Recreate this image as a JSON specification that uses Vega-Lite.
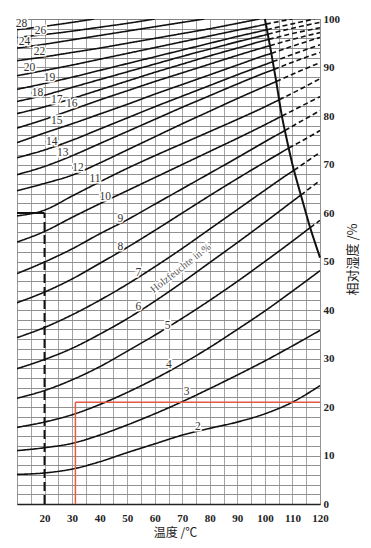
{
  "$schema": "https://vega.github.io/schema/vega-lite/v6.json",
  "width": 303,
  "height": 485,
  "autosize": "none",
  "padding": {"left": 17, "top": 19, "right": 51, "bottom": 44},
  "background": "white",
  "config": {"view": {"stroke": "#666", "strokeWidth": 1}},
  "datasets": {
    "curves": [
      {"c":"2","s":"a","t":10,"h":6.1},{"c":"2","s":"a","t":20,"h":6.4},{"c":"2","s":"a","t":30,"h":7.2},{"c":"2","s":"a","t":40,"h":8.7},{"c":"2","s":"a","t":50,"h":10.6},{"c":"2","s":"a","t":60,"h":12.4},{"c":"2","s":"a","t":70,"h":14.2},{"c":"2","s":"a","t":80,"h":15.6},{"c":"2","s":"a","t":90,"h":16.9},{"c":"2","s":"a","t":100,"h":18.6},{"c":"2","s":"a","t":110,"h":21.0},{"c":"2","s":"a","t":120,"h":24.4},
      {"c":"3","s":"a","t":10,"h":11.0},{"c":"3","s":"a","t":20,"h":11.6},{"c":"3","s":"a","t":30,"h":12.5},{"c":"3","s":"a","t":40,"h":14.2},{"c":"3","s":"a","t":50,"h":16.3},{"c":"3","s":"a","t":60,"h":18.6},{"c":"3","s":"a","t":70,"h":21.1},{"c":"3","s":"a","t":80,"h":23.8},{"c":"3","s":"a","t":90,"h":26.6},{"c":"3","s":"a","t":100,"h":29.5},{"c":"3","s":"a","t":110,"h":32.6},{"c":"3","s":"a","t":120,"h":35.8},
      {"c":"4","s":"a","t":10,"h":15.8},{"c":"4","s":"a","t":20,"h":16.9},{"c":"4","s":"a","t":30,"h":18.4},{"c":"4","s":"a","t":40,"h":20.5},{"c":"4","s":"a","t":50,"h":23.0},{"c":"4","s":"a","t":60,"h":25.8},{"c":"4","s":"a","t":70,"h":28.9},{"c":"4","s":"a","t":80,"h":32.3},{"c":"4","s":"a","t":90,"h":36.0},{"c":"4","s":"a","t":100,"h":39.8},{"c":"4","s":"a","t":110,"h":43.9},{"c":"4","s":"a","t":120,"h":48.1},
      {"c":"5","s":"a","t":10,"h":21.8},{"c":"5","s":"a","t":20,"h":23.4},{"c":"5","s":"a","t":30,"h":25.6},{"c":"5","s":"a","t":40,"h":28.3},{"c":"5","s":"a","t":50,"h":31.5},{"c":"5","s":"a","t":60,"h":34.8},{"c":"5","s":"a","t":70,"h":38.3},{"c":"5","s":"a","t":80,"h":42.0},{"c":"5","s":"a","t":90,"h":45.9},{"c":"5","s":"a","t":100,"h":50.0},{"c":"5","s":"a","t":110,"h":54.2},{"c":"5","s":"a","t":116.45,"h":57.0},
      {"c":"5","s":"b","t":116.45,"h":57.0},{"c":"5","s":"b","t":120,"h":58.5},
      {"c":"6","s":"a","t":10,"h":27.9},{"c":"6","s":"a","t":20,"h":29.8},{"c":"6","s":"a","t":30,"h":32.1},{"c":"6","s":"a","t":40,"h":35.0},{"c":"6","s":"a","t":50,"h":38.2},{"c":"6","s":"a","t":60,"h":41.8},{"c":"6","s":"a","t":70,"h":45.7},{"c":"6","s":"a","t":80,"h":49.8},{"c":"6","s":"a","t":90,"h":53.9},{"c":"6","s":"a","t":100,"h":58.1},{"c":"6","s":"a","t":110,"h":62.4},{"c":"6","s":"a","t":113.05,"h":63.7},
      {"c":"6","s":"b","t":113.05,"h":63.7},{"c":"6","s":"b","t":120,"h":66.7},
      {"c":"7","s":"a","t":10,"h":34.3},{"c":"7","s":"a","t":20,"h":36.4},{"c":"7","s":"a","t":30,"h":39.0},{"c":"7","s":"a","t":40,"h":42.0},{"c":"7","s":"a","t":50,"h":45.3},{"c":"7","s":"a","t":60,"h":48.9},{"c":"7","s":"a","t":70,"h":52.7},{"c":"7","s":"a","t":80,"h":56.7},{"c":"7","s":"a","t":90,"h":60.7},{"c":"7","s":"a","t":100,"h":64.7},{"c":"7","s":"a","t":110,"h":68.6},{"c":"7","s":"a","t":110.56,"h":68.8},
      {"c":"7","s":"b","t":110.56,"h":68.8},{"c":"7","s":"b","t":120,"h":72.5},
      {"c":"8","s":"a","t":10,"h":41.5},{"c":"8","s":"a","t":20,"h":43.7},{"c":"8","s":"a","t":30,"h":46.4},{"c":"8","s":"a","t":40,"h":49.6},{"c":"8","s":"a","t":50,"h":52.9},{"c":"8","s":"a","t":60,"h":56.4},{"c":"8","s":"a","t":70,"h":60.0},{"c":"8","s":"a","t":80,"h":63.6},{"c":"8","s":"a","t":90,"h":67.1},{"c":"8","s":"a","t":100,"h":70.5},{"c":"8","s":"a","t":108.66,"h":73.4},
      {"c":"8","s":"b","t":108.66,"h":73.4},{"c":"8","s":"b","t":110,"h":73.8},{"c":"8","s":"b","t":120,"h":77.0},
      {"c":"9","s":"a","t":10,"h":47.5},{"c":"9","s":"a","t":20,"h":49.9},{"c":"9","s":"a","t":30,"h":52.6},{"c":"9","s":"a","t":40,"h":55.7},{"c":"9","s":"a","t":50,"h":58.6},{"c":"9","s":"a","t":60,"h":61.8},{"c":"9","s":"a","t":70,"h":65.0},{"c":"9","s":"a","t":80,"h":68.2},{"c":"9","s":"a","t":90,"h":71.4},{"c":"9","s":"a","t":100,"h":74.7},{"c":"9","s":"a","t":107.26,"h":77.0},
      {"c":"9","s":"b","t":107.26,"h":77.0},{"c":"9","s":"b","t":110,"h":77.9},{"c":"9","s":"b","t":120,"h":81.1},
      {"c":"10","s":"a","t":10,"h":54.0},{"c":"10","s":"a","t":20,"h":56.2},{"c":"10","s":"a","t":30,"h":59.1},{"c":"10","s":"a","t":40,"h":61.9},{"c":"10","s":"a","t":50,"h":64.6},{"c":"10","s":"a","t":60,"h":67.3},{"c":"10","s":"a","t":70,"h":70.0},{"c":"10","s":"a","t":80,"h":72.7},{"c":"10","s":"a","t":90,"h":75.4},{"c":"10","s":"a","t":100,"h":78.2},{"c":"10","s":"a","t":106.18,"h":80.0},
      {"c":"10","s":"b","t":106.18,"h":80.0},{"c":"10","s":"b","t":110,"h":81.1},{"c":"10","s":"b","t":120,"h":84.0},
      {"c":"11","s":"a","t":10,"h":59.4},{"c":"11","s":"a","t":20,"h":60.6},{"c":"11","s":"a","t":30,"h":63.5},{"c":"11","s":"a","t":40,"h":66.4},{"c":"11","s":"a","t":50,"h":69.2},{"c":"11","s":"a","t":60,"h":71.8},{"c":"11","s":"a","t":70,"h":74.3},{"c":"11","s":"a","t":80,"h":76.8},{"c":"11","s":"a","t":90,"h":79.3},{"c":"11","s":"a","t":100,"h":81.9},{"c":"11","s":"a","t":105.19,"h":83.35},
      {"c":"11","s":"b","t":105.19,"h":83.35},{"c":"11","s":"b","t":110,"h":84.7},{"c":"11","s":"b","t":120,"h":87.7},
      {"c":"12","s":"a","t":10,"h":64.6},{"c":"12","s":"a","t":20,"h":66.1},{"c":"12","s":"a","t":30,"h":67.8},{"c":"12","s":"a","t":40,"h":70.3},{"c":"12","s":"a","t":50,"h":73.0},{"c":"12","s":"a","t":60,"h":75.7},{"c":"12","s":"a","t":70,"h":78.4},{"c":"12","s":"a","t":80,"h":81.0},{"c":"12","s":"a","t":90,"h":83.6},{"c":"12","s":"a","t":100,"h":86.1},{"c":"12","s":"a","t":104.1,"h":87.1},
      {"c":"12","s":"b","t":104.1,"h":87.1},{"c":"12","s":"b","t":110,"h":88.6},{"c":"12","s":"b","t":120,"h":91.0},
      {"c":"13","s":"a","t":10,"h":67.9},{"c":"13","s":"a","t":20,"h":69.6},{"c":"13","s":"a","t":30,"h":71.8},{"c":"13","s":"a","t":40,"h":74.3},{"c":"13","s":"a","t":50,"h":76.8},{"c":"13","s":"a","t":60,"h":79.3},{"c":"13","s":"a","t":70,"h":81.8},{"c":"13","s":"a","t":80,"h":84.2},{"c":"13","s":"a","t":90,"h":86.6},{"c":"13","s":"a","t":100,"h":88.9},{"c":"13","s":"a","t":103.34,"h":89.6},
      {"c":"13","s":"b","t":103.34,"h":89.6},{"c":"13","s":"b","t":110,"h":91.1},{"c":"13","s":"b","t":120,"h":93.1},
      {"c":"14","s":"a","t":10,"h":71.4},{"c":"14","s":"a","t":20,"h":73.0},{"c":"14","s":"a","t":30,"h":75.0},{"c":"14","s":"a","t":40,"h":77.3},{"c":"14","s":"a","t":50,"h":79.6},{"c":"14","s":"a","t":60,"h":81.9},{"c":"14","s":"a","t":70,"h":84.1},{"c":"14","s":"a","t":80,"h":86.3},{"c":"14","s":"a","t":90,"h":88.5},{"c":"14","s":"a","t":100,"h":90.6},{"c":"14","s":"a","t":102.86,"h":91.2},
      {"c":"14","s":"b","t":102.86,"h":91.2},{"c":"14","s":"b","t":110,"h":92.7},{"c":"14","s":"b","t":120,"h":94.7},
      {"c":"15","s":"a","t":10,"h":74.5},{"c":"15","s":"a","t":20,"h":76.5},{"c":"15","s":"a","t":30,"h":78.4},{"c":"15","s":"a","t":40,"h":80.4},{"c":"15","s":"a","t":50,"h":82.4},{"c":"15","s":"a","t":60,"h":84.5},{"c":"15","s":"a","t":70,"h":86.5},{"c":"15","s":"a","t":80,"h":88.5},{"c":"15","s":"a","t":90,"h":90.5},{"c":"15","s":"a","t":100,"h":92.5},{"c":"15","s":"a","t":102.33,"h":92.9},
      {"c":"15","s":"b","t":102.33,"h":92.9},{"c":"15","s":"b","t":110,"h":94.4},{"c":"15","s":"b","t":120,"h":96.2},
      {"c":"16","s":"a","t":10,"h":77.5},{"c":"16","s":"a","t":20,"h":79.3},{"c":"16","s":"a","t":30,"h":81.3},{"c":"16","s":"a","t":40,"h":83.3},{"c":"16","s":"a","t":50,"h":85.2},{"c":"16","s":"a","t":60,"h":87.1},{"c":"16","s":"a","t":70,"h":88.9},{"c":"16","s":"a","t":80,"h":90.7},{"c":"16","s":"a","t":90,"h":92.5},{"c":"16","s":"a","t":100,"h":94.2},{"c":"16","s":"a","t":101.84,"h":94.5},
      {"c":"16","s":"b","t":101.84,"h":94.5},{"c":"16","s":"b","t":110,"h":95.8},{"c":"16","s":"b","t":120,"h":97.2},
      {"c":"17","s":"a","t":10,"h":80.5},{"c":"17","s":"a","t":20,"h":81.9},{"c":"17","s":"a","t":30,"h":83.6},{"c":"17","s":"a","t":40,"h":85.4},{"c":"17","s":"a","t":50,"h":87.2},{"c":"17","s":"a","t":60,"h":89.0},{"c":"17","s":"a","t":70,"h":90.7},{"c":"17","s":"a","t":80,"h":92.4},{"c":"17","s":"a","t":90,"h":94.0},{"c":"17","s":"a","t":100,"h":95.6},{"c":"17","s":"a","t":101.4,"h":95.8},
      {"c":"17","s":"b","t":101.4,"h":95.8},{"c":"17","s":"b","t":110,"h":97.0},{"c":"17","s":"b","t":120,"h":98.2},
      {"c":"18","s":"a","t":10,"h":83.0},{"c":"18","s":"a","t":20,"h":84.3},{"c":"18","s":"a","t":30,"h":85.9},{"c":"18","s":"a","t":40,"h":87.5},{"c":"18","s":"a","t":50,"h":89.1},{"c":"18","s":"a","t":60,"h":90.7},{"c":"18","s":"a","t":70,"h":92.3},{"c":"18","s":"a","t":80,"h":93.8},{"c":"18","s":"a","t":90,"h":95.3},{"c":"18","s":"a","t":100,"h":96.7},{"c":"18","s":"a","t":101.05,"h":96.85},
      {"c":"18","s":"b","t":101.05,"h":96.85},{"c":"18","s":"b","t":110,"h":98.1},{"c":"18","s":"b","t":120,"h":99.3},
      {"c":"19","s":"a","t":10,"h":85.5},{"c":"19","s":"a","t":20,"h":86.7},{"c":"19","s":"a","t":30,"h":88.0},{"c":"19","s":"a","t":40,"h":89.4},{"c":"19","s":"a","t":50,"h":90.8},{"c":"19","s":"a","t":60,"h":92.2},{"c":"19","s":"a","t":70,"h":93.6},{"c":"19","s":"a","t":80,"h":95.0},{"c":"19","s":"a","t":90,"h":96.4},{"c":"19","s":"a","t":100,"h":97.7},{"c":"19","s":"a","t":100.73,"h":97.8},
      {"c":"19","s":"b","t":100.73,"h":97.8},{"c":"19","s":"b","t":110,"h":99.0},{"c":"19","s":"b","t":118,"h":100},
      {"c":"20","s":"a","t":10,"h":88.3},{"c":"20","s":"a","t":20,"h":89.4},{"c":"20","s":"a","t":30,"h":90.5},{"c":"20","s":"a","t":40,"h":91.7},{"c":"20","s":"a","t":50,"h":92.9},{"c":"20","s":"a","t":60,"h":94.1},{"c":"20","s":"a","t":70,"h":95.3},{"c":"20","s":"a","t":80,"h":96.5},{"c":"20","s":"a","t":90,"h":97.7},{"c":"20","s":"a","t":100,"h":98.9},{"c":"20","s":"a","t":100.35,"h":98.95},
      {"c":"20","s":"b","t":100.35,"h":98.95},{"c":"20","s":"b","t":110,"h":100},
      {"c":"22","s":"a","t":10,"h":91.4},{"c":"22","s":"a","t":20,"h":92.2},{"c":"22","s":"a","t":30,"h":93.1},{"c":"22","s":"a","t":40,"h":94.0},{"c":"22","s":"a","t":50,"h":95.0},{"c":"22","s":"a","t":60,"h":96.0},{"c":"22","s":"a","t":70,"h":97.0},{"c":"22","s":"a","t":80,"h":98.0},{"c":"22","s":"a","t":90,"h":99.1},{"c":"22","s":"a","t":98,"h":100},
      {"c":"24","s":"a","t":10,"h":94.0},{"c":"24","s":"a","t":20,"h":94.8},{"c":"24","s":"a","t":30,"h":95.7},{"c":"24","s":"a","t":40,"h":96.6},{"c":"24","s":"a","t":50,"h":97.5},{"c":"24","s":"a","t":60,"h":98.4},{"c":"24","s":"a","t":70,"h":99.3},{"c":"24","s":"a","t":78,"h":100},
      {"c":"26","s":"a","t":10,"h":96.2},{"c":"26","s":"a","t":20,"h":96.8},{"c":"26","s":"a","t":30,"h":97.5},{"c":"26","s":"a","t":40,"h":98.3},{"c":"26","s":"a","t":50,"h":99.1},{"c":"26","s":"a","t":60,"h":100},
      {"c":"28","s":"a","t":10,"h":97.8},{"c":"28","s":"a","t":20,"h":98.5},{"c":"28","s":"a","t":30,"h":99.3},{"c":"28","s":"a","t":38,"h":100}
    ],
    "boil": [
      {"t":100,"h":100},{"t":102,"h":94},{"t":104,"h":87.5},{"t":106,"h":80.5},{"t":108,"h":75},{"t":110,"h":70},{"t":112,"h":65.8},{"t":114,"h":61.8},{"t":116,"h":57.8},{"t":118,"h":54.2},{"t":120,"h":50.8}
    ],
    "labels": [
      {"c":"28","t":11.6,"h":98.9},{"c":"26","t":18.5,"h":97.6},{"c":"24","t":12.7,"h":95.2},{"c":"22","t":18.2,"h":93.1},{"c":"20","t":14.5,"h":90.0},{"c":"19","t":21.8,"h":87.9},{"c":"18","t":17.4,"h":84.8},{"c":"17","t":24.4,"h":83.2},{"c":"16","t":29.9,"h":82.4},{"c":"15","t":24.4,"h":78.9},{"c":"14","t":22.6,"h":74.7},{"c":"13","t":26.6,"h":72.3},{"c":"12","t":32.1,"h":69.2},{"c":"11","t":38.3,"h":67.1},{"c":"10","t":42.0,"h":63.4},{"c":"9","t":47.5,"h":58.7},{"c":"8","t":47.5,"h":52.9},{"c":"7","t":54.1,"h":47.7},{"c":"6","t":54.1,"h":40.7},{"c":"5","t":64.7,"h":36.8},{"c":"4","t":65.1,"h":28.6},{"c":"3","t":71.6,"h":23.0},{"c":"2","t":75.7,"h":15.8}
    ]
  },
  "encoding": {
    "x": {
      "field": "t", "type": "quantitative",
      "scale": {"domain": [10, 120], "nice": false, "zero": false},
      "axis": {
        "values": [10,15,20,25,30,35,40,45,50,55,60,65,70,75,80,85,90,95,100,105,110,115,120],
        "labelExpr": "datum.value % 10 === 0 && datum.value > 10 ? datum.label : ''",
        "grid": true, "gridColor": "#9a9a9a", "gridWidth": 0.9,
        "ticks": false, "domain": true, "domainColor": "#222", "domainWidth": 1.5,
        "labelFont": "Liberation Serif", "labelFontSize": 11, "labelFontWeight": "bold", "labelColor": "#222",
        "labelPadding": 8, "labelOverlap": false, "labelFlush": false,
        "title": "温度 /℃", "titleFont": "Noto Sans CJK SC", "titleFontSize": 12, "titleFontWeight": "normal", "titleColor": "#222",
        "titlePadding": 4, "titleX": 158
      }
    },
    "y": {
      "field": "h", "type": "quantitative",
      "scale": {"domain": [0, 100], "nice": false},
      "axis": {
        "orient": "right",
        "values": [0,2,4,6,8,10,12,14,16,18,20,22,24,26,28,30,32,34,36,38,40,42,44,46,48,50,52,54,56,58,60,62,64,66,68,70,72,74,76,78,80,82,84,86,88,90,92,94,96,98,100],
        "labelExpr": "datum.value % 10 === 0 ? datum.label : ''",
        "grid": true, "gridColor": "#858585", "gridWidth": 0.9,
        "ticks": false, "tickSize": 0, "domain": false,
        "labelFont": "Liberation Serif", "labelFontSize": 11, "labelFontWeight": "bold", "labelColor": "#222",
        "labelPadding": 3, "labelOverlap": false, "labelFlush": false, "labelAlign": "left",
        "title": "相对湿度 /%", "titleFont": "Noto Sans CJK SC", "titleFontSize": 13, "titleFontWeight": "normal", "titleColor": "#222",
        "titleAngle": 270, "titleX": 32, "titleY": 240, "titleAlign": "center", "titleBaseline": "middle"
      }
    }
  },
  "layer": [
    {
      "data": {"name": "curves"},
      "mark": {"type": "line", "color": "#111", "strokeWidth": 1.6, "interpolate": "monotone", "clip": true},
      "encoding": {
        "detail": {"field": "c", "type": "nominal"},
        "strokeDash": {"field": "s", "type": "nominal", "scale": {"domain": ["a", "b"], "range": [[1, 0], [5, 3]]}, "legend": null}
      }
    },
    {
      "data": {"name": "boil"},
      "mark": {"type": "line", "color": "#111", "strokeWidth": 2, "interpolate": "monotone"},
      "encoding": {}
    },
    {
      "data": {"values": [{"t": 20, "h": 0, "t2": 20, "h2": 60}]},
      "mark": {"type": "rule", "color": "#111", "strokeWidth": 2, "strokeDash": [9, 4]},
      "encoding": {"x2": {"field": "t2"}, "y2": {"field": "h2"}}
    },
    {
      "data": {"values": [{"t": 10, "h": 60, "t2": 20, "h2": 60}]},
      "mark": {"type": "rule", "color": "#111", "strokeWidth": 2},
      "encoding": {"x2": {"field": "t2"}, "y2": {"field": "h2"}}
    },
    {
      "data": {"values": [{"t": 31.2, "h": 0, "t2": 31.2, "h2": 21}, {"t": 31.2, "h": 21, "t2": 120, "h2": 21}]},
      "mark": {"type": "rule", "color": "#e45a46", "strokeWidth": 1.5},
      "encoding": {"x2": {"field": "t2"}, "y2": {"field": "h2"}}
    },
    {
      "data": {"name": "labels"},
      "mark": {"type": "text", "font": "Liberation Serif", "fontSize": 11.5, "stroke": "white", "strokeWidth": 3, "fill": "white"},
      "encoding": {"text": {"field": "c"}}
    },
    {
      "data": {"name": "labels"},
      "mark": {"type": "text", "font": "Liberation Serif", "fontSize": 11.5, "fill": "#333"},
      "encoding": {"text": {"field": "c"}}
    },
    {
      "data": {"values": [{"txt": "Holzfeuchte in %", "t": 69.5, "h": 48.6}]},
      "mark": {"type": "text", "font": "Liberation Serif", "fontSize": 10.5, "angle": 322, "stroke": "white", "strokeWidth": 3, "fill": "white"},
      "encoding": {"text": {"field": "txt"}}
    },
    {
      "data": {"values": [{"txt": "Holzfeuchte in %", "t": 69.5, "h": 48.6}]},
      "mark": {"type": "text", "font": "Liberation Serif", "fontSize": 10.5, "angle": 322, "fill": "#555"},
      "encoding": {"text": {"field": "txt"}}
    }
  ]
}
